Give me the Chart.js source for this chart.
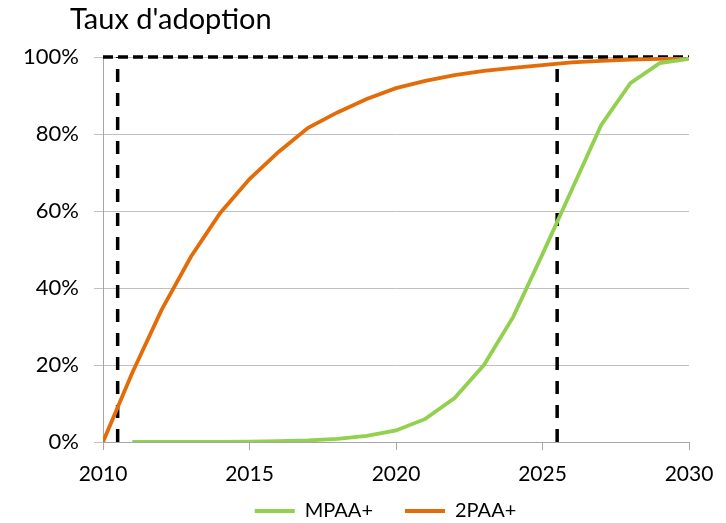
<!DOCTYPE html>
<html>
<head>
<meta charset="utf-8">
<script src="https://cdn.jsdelivr.net/npm/chart.js@4"></script>
<style>
  body { margin: 0; background: #fff; }
  #wrap { width: 726px; height: 523px; }
</style>
</head>
<body>
<div id="wrap"><canvas id="adoption"></canvas></div>
<script>
// data (% adoption)
const years = [2010, 2011, 2012, 2013, 2014, 2015, 2016, 2017, 2018, 2019, 2020,
               2021, 2022, 2023, 2024, 2025, 2026, 2027, 2028, 2029, 2030];
const pctMPAA = [null, 0, 0, 0, 0, 0.1, 0.2, 0.4, 0.8, 1.6, 3,
                 6, 11.4, 20, 32.5, 48.8, 65.5, 82.3, 93.2, 98.4, 99.5];
const pct2PAA = [0, 18, 34.3, 48.1, 59.5, 68.3, 75.4, 81.6, 85.6, 89.1, 91.9,
                 93.8, 95.3, 96.4, 97.2, 97.9, 98.6, 99, 99.3, 99.5, 99.7];

// dashed reference lines
const markerYears = [2010.5, 2025.5];
const fullLevel = 100;

const green = '#92D050';
const orange = '#E36C09';
const FONT = 'Lato, "Liberation Sans", sans-serif';
const LEGEND_GAP = 32;

function toPoints(vals) {
  return years.map((y, i) => ({ x: y, y: vals[i] }));
}

const refSets = markerYears.map(yr => ({
  label: 'ref',
  data: [{ x: yr, y: 0 }, { x: yr, y: fullLevel }],
  borderColor: '#000',
  borderWidth: 3.5,
  borderDash: [13, 11],
  pointRadius: 0,
  clip: false,
  fill: false
}));
refSets.push({
  label: 'ref',
  data: [{ x: years[0], y: fullLevel }, { x: years[years.length - 1], y: fullLevel }],
  borderColor: '#000',
  borderWidth: 3.5,
  borderDash: [10, 5],
  pointRadius: 0,
  clip: false,
  fill: false
});

const titlePlugin = {
  id: 'titleText',
  afterDraw(chart) {
    const ctx = chart.ctx;
    ctx.save();
    ctx.font = '29px ' + FONT;
    ctx.fillStyle = '#000';
    ctx.textBaseline = 'alphabetic';
    ctx.fillText("Taux d'adoption", 70, 29);
    ctx.restore();
  }
};

// move the legend: centred under the plot and a bit lower than its box
const legendNudge = {
  id: 'legendNudge',
  afterLayout(chart) {
    const lg = chart.legend;
    if (!lg) return;
    lg.top = 511 - LEGEND_GAP - 10;
    lg.bottom = chart.height;
    const dx = 385.5 - (lg.left + lg.right) / 2;
    lg.left += dx; lg.right += dx;
  }
};

new Chart(document.getElementById('adoption'), {
  type: 'line',
  data: {
    datasets: [
      {
        label: 'MPAA+',
        data: toPoints(pctMPAA),
        borderColor: green,
        backgroundColor: green,
        borderWidth: 3.8,
        pointRadius: 0,
        tension: 0,
        fill: false
      },
      {
        label: '2PAA+',
        data: toPoints(pct2PAA),
        borderColor: orange,
        backgroundColor: orange,
        borderWidth: 3.8,
        pointRadius: 0,
        tension: 0,
        fill: false
      },
      ...refSets
    ]
  },
  options: {
    responsive: true,
    maintainAspectRatio: false,
    animation: false,
    layout: { padding: { top: 57, right: 37, left: 0, bottom: 0 } },
    plugins: {
      tooltip: { enabled: false },
      title: { display: false },
      legend: {
        position: 'bottom',
        maxHeight: 36,
        labels: {
          filter: item => item.text !== 'ref',
          usePointStyle: true,
          pointStyle: 'line',
          pointStyleWidth: 40,
          padding: LEGEND_GAP,
          color: '#000',
          font: { family: FONT, size: 20 }
        }
      }
    },
    scales: {
      x: {
        type: 'linear',
        min: 2010,
        max: 2030,
        afterFit: s => { s.height = 45; },
        ticks: {
          stepSize: 5,
          padding: 12,
          color: '#000',
          font: { family: FONT, size: 21 },
          callback: v => String(v)
        },
        grid: { drawOnChartArea: false, tickLength: 8, color: '#A6A6A6' },
        border: { color: '#A6A6A6' }
      },
      y: {
        min: 0,
        max: 100,
        afterFit: s => { s.width = 103; },
        ticks: {
          stepSize: 20,
          padding: 15,
          color: '#000',
          font: { family: FONT, size: 22 },
          callback: v => v + '%'
        },
        grid: { color: '#C0C0C0', tickLength: 9 },
        border: { color: '#A6A6A6' }
      }
    }
  },
  plugins: [titlePlugin, legendNudge]
});
</script>
</body>
</html>
